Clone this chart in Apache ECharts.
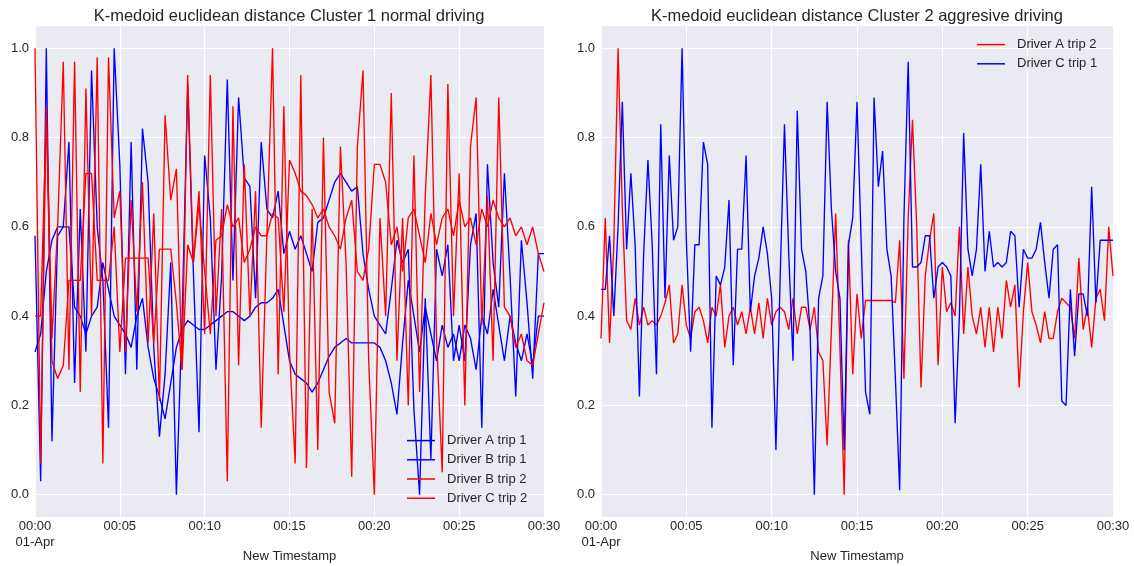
<!DOCTYPE html>
<html><head><meta charset="utf-8">
<script src="https://cdn.jsdelivr.net/npm/echarts@6/dist/echarts.min.js"></script>
<style>html,body{margin:0;padding:0;background:#fff}#c{width:1134px;height:566px}</style>
</head><body><div id="c"></div>
<script>
// ---- data (minutes after 00:00, 01-Apr) ----
const leftStepMin = 1/3;   // 20 s samples
const rightStepMin = 0.25; // 15 s samples

const driverATrip1 = [0.58,0.03,1.00, 0.12,0.58,0.60, 0.79,0.25,0.64, 0.32,0.95,0.60, 0.48,0.15,1.00,
 0.74,0.27,0.79, 0.28,0.82,0.70, 0.33,0.13,0.27, 0.52,0.00,0.39, 0.92,0.50,0.14,
 0.76,0.62,0.28, 0.49,0.93,0.48, 0.89,0.71,0.69, 0.44,0.79,0.64, 0.62,0.68,0.54,
 0.59,0.55,0.58, 0.54,0.50,0.61, 0.62,0.66,0.70, 0.72,0.70,0.68, 0.69,0.54,0.46,
 0.40,0.38,0.36, 0.46,0.57,0.52, 0.55,0.19,0.00, 0.44,0.08,0.55, 0.49,0.56,0.30,
 0.38,0.30,0.56, 0.63,0.15,0.74, 0.52,0.42,0.72, 0.49,0.22,0.57, 0.43,0.26,0.54,
 0.54];
const driverBTrip1 = [0.32,0.36,0.50, 0.57,0.60,0.60, 0.60,0.42,0.40, 0.36,0.40,0.42, 0.52,0.46,0.40,
 0.38,0.36,0.33, 0.40,0.44,0.33, 0.26,0.22,0.17, 0.25,0.33,0.37, 0.39,0.38,0.37,
 0.37,0.38,0.39, 0.40,0.41,0.41, 0.40,0.39,0.40, 0.42,0.43,0.43, 0.44,0.46,0.38,
 0.30,0.27,0.26, 0.25,0.23,0.25, 0.28,0.31,0.33, 0.34,0.35,0.34, 0.34,0.34,0.34,
 0.34,0.33,0.30, 0.25,0.18,0.34, 0.48,0.40,0.32, 0.42,0.36,0.30, 0.38,0.33,0.36,
 0.30,0.38,0.35, 0.28,0.40,0.36, 0.46,0.38,0.30, 0.40,0.34,0.30, 0.36,0.29,0.40,
 0.40];
const driverBTrip2 = [1.00,0.07,0.87, 0.35,0.60,0.97, 0.28,0.97,0.23, 0.91,0.40,0.98, 0.07,0.98,0.62,
 0.68,0.32,0.66, 0.41,0.70,0.34, 0.63,0.21,0.85, 0.66,0.73,0.28, 0.94,0.52,0.68,
 0.36,0.94,0.40, 0.64,0.03,0.87, 0.29,0.74,0.40, 0.68,0.15,0.58, 1.00,0.27,0.87,
 0.32,0.07,0.94, 0.06,0.64,0.10, 0.80,0.23,0.16, 0.78,0.52,0.04, 0.78,0.95,0.30,
 0.00,0.62,0.40, 0.90,0.30,0.62, 0.20,0.76,0.23, 0.67,0.94,0.35, 0.05,0.92,0.40,
 0.72,0.20,0.78, 0.89,0.38,0.67, 0.30,0.89,0.42, 0.40,0.33,0.36, 0.30,0.29,0.36,
 0.43];
const driverCTrip2 = [0.40,0.40,0.85, 0.30,0.26,0.29, 0.48,0.48,0.48, 0.72,0.72,0.48, 0.48,0.48,0.60,
 0.32,0.53,0.53, 0.53,0.53,0.53, 0.34,0.55,0.55, 0.55,0.43,0.28, 0.56,0.52,0.65,
 0.50,0.36,0.57, 0.58,0.65,0.60, 0.62,0.52,0.55, 0.60,0.58,0.58, 0.63,0.62,0.41,
 0.75,0.72,0.68, 0.67,0.65,0.62, 0.64,0.60,0.58, 0.55,0.62,0.66, 0.50,0.48,0.55,
 0.74,0.74,0.70, 0.56,0.60,0.50, 0.62,0.64,0.58, 0.52,0.63,0.56, 0.62,0.64,0.58,
 0.66,0.60,0.62, 0.56,0.64,0.60, 0.66,0.62,0.60, 0.62,0.58,0.60, 0.56,0.60,0.54,
 0.50];
const driverATrip2 = [0.35,0.62,0.34,0.56, 1.00,0.64,0.39,0.37, 0.44,0.38,0.42,0.38, 0.39,0.38,0.40,0.43, 0.47,0.34,0.36,0.47,
 0.38,0.35,0.41,0.42, 0.39,0.34,0.42,0.40, 0.47,0.33,0.40,0.42, 0.38,0.41,0.36,0.42, 0.36,0.43,0.35,0.44,
 0.38,0.41,0.42,0.41, 0.37,0.44,0.36,0.42, 0.42,0.37,0.42,0.32, 0.30,0.11,0.37,0.63, 0.33,0.00,0.57,0.27,
 0.45,0.35,0.435,0.435, 0.435,0.435,0.435,0.435, 0.435,0.43,0.57,0.26, 0.62,0.84,0.60,0.24, 0.49,0.57,0.63,0.29,
 0.51,0.41,0.43,0.40, 0.60,0.36,0.51,0.40, 0.36,0.42,0.33,0.42, 0.32,0.42,0.35,0.48, 0.42,0.47,0.24,0.41,
 0.52,0.41,0.38,0.34, 0.41,0.35,0.35,0.41, 0.44,0.43,0.42,0.35, 0.53,0.37,0.42,0.33, 0.44,0.46,0.39,0.60,
 0.49];
const driverCTrip1 = [0.46,0.46,0.58,0.40, 0.60,0.88,0.55,0.72, 0.56,0.22,0.54,0.75, 0.56,0.27,0.83,0.44, 0.76,0.57,0.60,1.00,
 0.57,0.32,0.56,0.56, 0.79,0.74,0.15,0.49, 0.47,0.51,0.66,0.29, 0.55,0.55,0.76,0.41, 0.49,0.53,0.60,0.54,
 0.44,0.10,0.49,0.83, 0.54,0.30,0.86,0.55, 0.50,0.37,0.00,0.44, 0.49,0.88,0.64,0.50, 0.44,0.10,0.56,0.62,
 0.88,0.56,0.23,0.18, 0.89,0.69,0.77,0.55, 0.49,0.26,0.01,0.62, 0.97,0.51,0.51,0.52, 0.58,0.58,0.44,0.51,
 0.52,0.51,0.49,0.16, 0.40,0.81,0.55,0.49, 0.55,0.74,0.50,0.59, 0.51,0.52,0.51,0.52, 0.59,0.58,0.42,0.55,
 0.53,0.53,0.55,0.61, 0.52,0.44,0.55,0.56, 0.21,0.20,0.46,0.31, 0.45,0.45,0.40,0.69, 0.43,0.57,0.57,0.57,
 0.57];

const yTicks = [0, 0.2, 0.4, 0.6, 0.8, 1.0];
const xTicks = [0, 5, 10, 15, 20, 25, 30];
const xTickLabels = ['00:00\n01-Apr', '00:05', '00:10', '00:15', '00:20', '00:25', '00:30'];
const titles = ['K-medoid euclidean distance Cluster 1 normal driving', 'K-medoid euclidean distance Cluster 2 aggresive driving'];

// ---- chart ----
const FONT = '"Liberation Sans", Arial, sans-serif';
const TXT = '#262626';
const toPairs = (arr, step) => arr.map((v, i) => [i * step, v]);

function xAxis(gi) {
  return {
    type: 'value', gridIndex: gi, min: 0, max: 30, interval: 5,
    axisLine: {show: false}, axisTick: {show: false},
    axisLabel: {
      color: TXT, fontSize: 13, fontFamily: FONT, margin: 2, lineHeight: 15.5,
      formatter: v => xTickLabels[xTicks.indexOf(v)] ?? ''
    },
    splitLine: {show: true, lineStyle: {color: '#ffffff', width: 1}},
    name: 'New Timestamp', nameLocation: 'middle', nameGap: 33, nameMoveOverlap: false,
    nameTextStyle: {color: TXT, fontSize: 13, fontFamily: FONT}
  };
}
function yAxis(gi) {
  return {
    type: 'value', gridIndex: gi, min: -0.05, max: 1.05,
    axisLine: {show: false},
    axisTick: {show: false, customValues: yTicks},
    axisLabel: {customValues: yTicks, formatter: v => v.toFixed(1), color: TXT, fontSize: 13, fontFamily: FONT, margin: 6},
    splitLine: {show: true, lineStyle: {color: '#ffffff', width: 1}}
  };
}
function line(name, data, step, color, gi) {
  return {
    type: 'line', name, xAxisIndex: gi, yAxisIndex: gi,
    data: toPairs(data, step), showSymbol: false, symbol: 'none',
    lineStyle: {color, width: 1.35}, itemStyle: {color},
    animation: false, silent: true
  };
}
const legendText = {color: TXT, fontSize: 13, fontFamily: FONT, lineHeight: 19.2, padding: [0, 0, 0, 7]};

const option = {
  backgroundColor: '#ffffff',
  animation: false,
  title: [
    {text: titles[0], left: 289, top: 8, textAlign: 'center', padding: 0,
     textStyle: {color: TXT, fontSize: 16.5, fontWeight: 'normal', fontFamily: FONT}},
    {text: titles[1], left: 857, top: 8, textAlign: 'center', padding: 0,
     textStyle: {color: TXT, fontSize: 16.5, fontWeight: 'normal', fontFamily: FONT}}
  ],
  grid: [
    {left: 35, right: 590, top: 26, bottom: 49, show: true, backgroundColor: '#EAEAF2', borderWidth: 0,
     containLabel: false, outerBoundsMode: 'none'},
    {left: 601, right: 21, top: 26, bottom: 49, show: true, backgroundColor: '#EAEAF2', borderWidth: 0,
     containLabel: false, outerBoundsMode: 'none'}
  ],
  xAxis: [xAxis(0), xAxis(1)],
  yAxis: [yAxis(0), yAxis(1)],
  legend: [
    {data: ['Driver A trip 1', 'Driver B trip 1', 'Driver B trip 2', 'Driver C trip 2'],
     orient: 'vertical', left: 407, top: 431, icon: 'rect', itemWidth: 28, itemHeight: 1.5, itemGap: 0,
     padding: 0, textStyle: legendText, selectedMode: false},
    {data: ['Driver A trip 2', 'Driver C trip 1'],
     orient: 'vertical', left: 977, top: 35, icon: 'rect', itemWidth: 28, itemHeight: 1.5, itemGap: 0,
     padding: 0, textStyle: legendText, selectedMode: false}
  ],
  series: [
    line('Driver A trip 1', driverATrip1, leftStepMin, '#0000FF', 0),
    line('Driver B trip 1', driverBTrip1, leftStepMin, '#0000FF', 0),
    line('Driver B trip 2', driverBTrip2, leftStepMin, '#FF0000', 0),
    line('Driver C trip 2', driverCTrip2, leftStepMin, '#FF0000', 0),
    line('Driver A trip 2', driverATrip2, rightStepMin, '#FF0000', 1),
    line('Driver C trip 1', driverCTrip1, rightStepMin, '#0000FF', 1)
  ]
};
const chart = echarts.init(document.getElementById('c'), null, {renderer: 'canvas'});
chart.setOption(option);
</script>
</body></html>
